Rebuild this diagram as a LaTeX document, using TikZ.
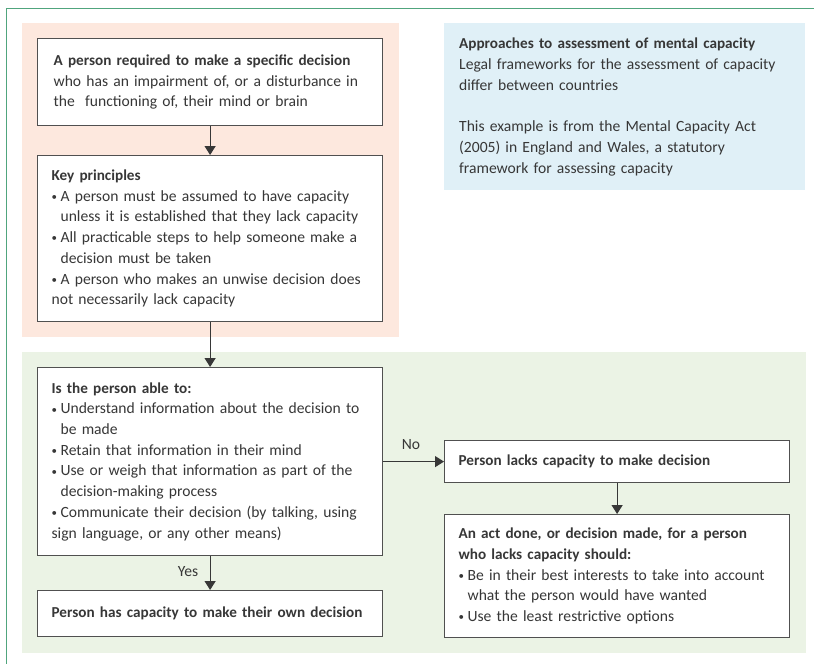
\documentclass[tikz,border=0pt]{standalone}
\usepackage{fontspec}
\setmainfont{Carlito}
\usetikzlibrary{arrows.meta}
\definecolor{framegreen}{RGB}{80,165,125}
\definecolor{peachbg}{RGB}{253,232,222}
\definecolor{bluebg}{RGB}{224,240,247}
\definecolor{greenbg}{RGB}{235,243,229}
\definecolor{inkgray}{RGB}{55,55,55}
\definecolor{boxgray}{RGB}{80,80,80}
\newcommand{\bul}{\par\hangindent=9pt\hangafter=1\noindent\makebox[9pt][l]{\raisebox{0.8pt}{\scalebox{0.7}{\textbullet}}}}
\newcommand{\hd}[1]{{\fontsize{15.2}{20.7}\selectfont\bfseries #1}}
\tikzset{
  flowbox/.style={draw=boxgray, line width=1.2pt, fill=white, anchor=north west,
    inner xsep=14pt, inner ysep=0pt, text width=317pt, align=left,
    minimum height=#1, font=\fontsize{15.6}{20.7}\selectfont, text=inkgray},
  flowbox/.default=40pt,
  flowarrow/.style={-{Triangle[length=9pt,width=11pt]}, draw=inkgray, line width=1.2pt},
  flowlabel/.style={font=\fontsize{15.6}{18}\selectfont, text=inkgray, inner sep=0pt}
}

\begin{document}
\begin{tikzpicture}[x=1pt,y=-1pt]
\useasboundingbox (0,0) rectangle (814,664);

% coloured panels
\fill[peachbg] (22,23) rectangle (399,337);
\fill[bluebg]  (444,23) rectangle (805,190);
\fill[greenbg] (22,352) rectangle (806,653);
\draw[framegreen, line width=1pt] (6.5,664) -- (6.5,8) -- (814,8);

% boxes
\node[flowbox=87pt] (need) at (37,38) {\hspace*{2pt}\hd{A person required to make a specific decision}\newline
  \hspace*{2pt}who has an impairment of, or a disturbance in\newline \hspace*{2pt}the \ functioning of, their mind or brain};
\node[flowbox=166pt] (keyp) at (37,155) {\hd{Key principles}
  \bul A person must be assumed to have capacity\newline unless it is established that they lack capacity
  \bul All practicable steps to help someone make a\newline decision must be taken
  \bul A person who makes an unwise decision does\newline not necessarily lack capacity};
\node[flowbox=188pt] (able) at (37,367) {\hd{Is the person able to:}
  \bul Understand information about the decision to\newline be made
  \bul Retain that information in their mind
  \bul Use or weigh that information as part of the\newline decision-making process
  \bul Communicate their decision (by talking, using\newline sign language, or any other means)};
\node[flowbox=46pt] (hascap) at (37,590) {\mbox{\hd{Person has capacity to make their own decision}}};
\node[flowbox=42pt] (lacks) at (444,440) {\hd{Person lacks capacity to make decision}};
\node[flowbox=123pt] (act) at (444,514) {\hd{An act done, or decision made, for a person}\newline
  \hd{who lacks capacity should:}
  \bul Be in their best interests to take into account\newline what the person would have wanted
  \bul Use the least restrictive options};

% side note
\node[anchor=north west, inner xsep=15pt, inner ysep=15pt, text width=340pt, align=left,
  font=\fontsize{15.6}{20.7}\selectfont, text=inkgray] (note) at (444,23)
  {\hd{Approaches to assessment of mental capacity}\\
   Legal frameworks for the assessment of capacity\\ differ between countries\\[20.7pt]
   This example is from the Mental Capacity Act\\ (2005) in England and Wales, a statutory\\
   framework for assessing capacity};

% connectors
\draw[flowarrow] (need.south) -- (keyp.north);
\draw[flowarrow] (keyp.south) -- (able.north);
\draw[flowarrow] (able.south) -- (hascap.north);
\draw[flowarrow] (able.east) -- (lacks.west);
\draw[flowarrow] (lacks.south) -- (act.north);
\node[flowlabel] (yes) at (188,572) {Yes};
\node[flowlabel] (no) at (411,445) {No};
\end{tikzpicture}
\end{document}
